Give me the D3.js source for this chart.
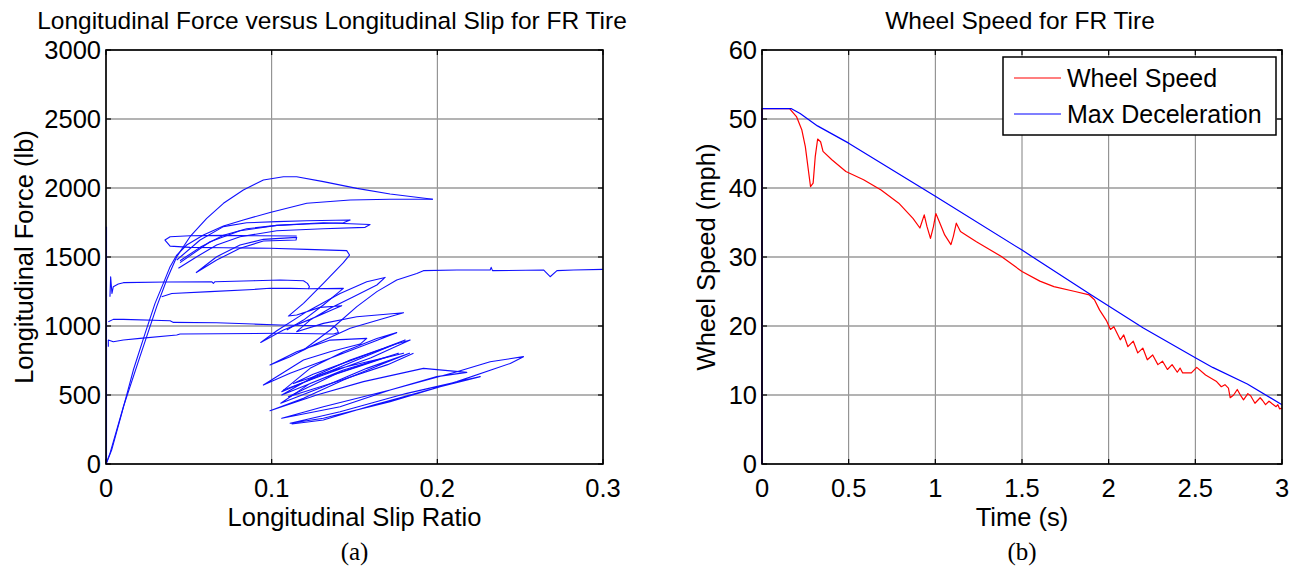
<!DOCTYPE html>
<html>
<head>
<meta charset="utf-8">
<script src="https://cdn.jsdelivr.net/npm/d3@7"></script>
<style>
  body { margin: 0; background: #ffffff; }
  text { font-family: "Liberation Sans", Arial, sans-serif; fill: #000; }
  .caption { font-family: "Liberation Serif", "Times New Roman", serif; }
</style>
</head>
<body>
<div id="chart"></div>
<script>
// ---- tick labels ----
const slipTicks = [0, 0.1, 0.2, 0.3];
const forceTicks = [0, 500, 1000, 1500, 2000, 2500, 3000];
const timeTicks = [0, 0.5, 1, 1.5, 2, 2.5, 3];
const speedTicks = [0, 10, 20, 30, 40, 50, 60];

// ---- (a) longitudinal force vs slip, traced as pieces of [slip, force] ----
const edgeSpike = [[0.0003, 0], [0.0003, 1720]];
const outerArc = [[0, 0], [0.0024, 77], [0.0105, 415], [0.0205, 778], [0.0306, 1140], [0.0366, 1333],
  [0.0427, 1502], [0.0507, 1647], [0.0608, 1780], [0.0709, 1889], [0.0829, 1985], [0.095, 2058],
  [0.1071, 2082], [0.1151, 2082], [0.1312, 2046], [0.1514, 1997], [0.1715, 1956], [0.1973, 1918]];
const returnArc = [[0.1973, 1918], [0.1715, 1918], [0.1474, 1913], [0.1212, 1889], [0.099, 1823],
  [0.0829, 1768], [0.0709, 1724], [0.0588, 1659], [0.0487, 1587], [0.0427, 1514], [0.0387, 1430],
  [0.0346, 1309], [0.0296, 1164], [0.0236, 947], [0.0165, 681], [0.0095, 367], [0.0034, 101], [0.0004, 10]];
const loopA = [[0.0427, 1478], [0.0568, 1623], [0.0709, 1720], [0.0849, 1748], [0.1031, 1756], [0.1212, 1763],
  [0.1474, 1768], [0.1433, 1748], [0.1212, 1739], [0.1031, 1729], [0.0849, 1705], [0.0709, 1657],
  [0.0568, 1570], [0.0447, 1473]];
const loopB = [[0.0447, 1459], [0.0628, 1611], [0.0809, 1690], [0.1031, 1729], [0.1312, 1748], [0.1594, 1736],
  [0.1564, 1715], [0.1312, 1705], [0.1031, 1690], [0.0809, 1647], [0.0668, 1587], [0.0548, 1502], [0.0437, 1418]];
const loopC = [[0.0543, 1386], [0.0668, 1502], [0.0809, 1587], [0.095, 1628], [0.1151, 1642], [0.1147, 1623],
  [0.095, 1616], [0.0809, 1563], [0.0668, 1478], [0.0543, 1386]];
const zigzag = [[0.1151, 1652], [0.091, 1654], [0.0709, 1657], [0.0507, 1654], [0.0387, 1647], [0.0356, 1623],
  [0.0387, 1579], [0.0507, 1570], [0.0709, 1567], [0.099, 1563], [0.1212, 1555], [0.1453, 1546],
  [0.147, 1514], [0.1433, 1459], [0.1312, 1309], [0.1192, 1164], [0.1101, 1072],
  [0.1151, 1080], [0.1292, 1135], [0.1423, 1147],
  [0.1373, 1121], [0.1232, 1048], [0.1071, 971], [0.0934, 881],
  [0.1031, 966], [0.1212, 1104], [0.1413, 1236], [0.1574, 1321], [0.1685, 1352],
  [0.1635, 1297], [0.1494, 1212], [0.1353, 1128], [0.1232, 1043], [0.1151, 959],
  [0.1312, 1019], [0.1514, 1067], [0.1796, 1096],
  [0.1675, 1055], [0.1474, 983], [0.1272, 874], [0.1111, 778], [0.099, 717],
  [0.1151, 814], [0.1353, 898], [0.1574, 910], [0.1534, 869], [0.1353, 814], [0.1192, 753], [0.095, 572],
  [0.1111, 657], [0.1353, 766], [0.1614, 886], [0.1755, 952],
  [0.1635, 910], [0.1433, 814], [0.1232, 693], [0.1061, 524],
  [0.1272, 633], [0.1514, 753], [0.1806, 898],
  [0.1675, 838], [0.1474, 753], [0.1272, 645], [0.1061, 500],
  [0.1312, 621], [0.1554, 717], [0.1765, 802],
  [0.1635, 753], [0.1433, 681], [0.1232, 584], [0.1055, 440],
  [0.1312, 560], [0.1574, 693], [0.1832, 802],
  [0.1675, 729], [0.1433, 609], [0.1192, 476], [0.099, 386],
  [0.1272, 500], [0.1554, 597], [0.1916, 693], [0.2178, 664],
  [0.1997, 633], [0.1715, 536], [0.1413, 415], [0.1061, 331],
  [0.1312, 415], [0.1715, 536], [0.2118, 669], [0.2319, 741], [0.252, 778],
  [0.244, 729], [0.2118, 597], [0.1715, 452], [0.1312, 331], [0.1111, 295],
  [0.1413, 379], [0.1816, 512], [0.2259, 633],
  [0.2017, 560], [0.1614, 427], [0.1312, 319], [0.1121, 290]];
const innerLoops = [[0.1071, 536], [0.13, 640], [0.16, 770], [0.1836, 898], [0.175, 870], [0.15, 760],
  [0.125, 650], [0.1131, 584], [0.14, 690], [0.1796, 802], [0.165, 760], [0.14, 660], [0.1101, 488],
  [0.14, 600], [0.17, 720], [0.1856, 802]];
const line1300 = [[0.0024, 1212], [0.0028, 1357], [0.0036, 1236], [0.0044, 1285], [0.0074, 1304], [0.0105, 1314],
  [0.0366, 1319], [0.0638, 1321], [0.0648, 1309], [0.0658, 1321], [0.089, 1328], [0.1051, 1333],
  [0.1192, 1328], [0.1216, 1309], [0.1228, 1285], [0.1222, 1270], [0.1111, 1273], [0.099, 1273],
  [0.089, 1265], [0.0628, 1249], [0.0397, 1236], [0.0336, 1212]];
const line1270 = [[0.1222, 1270], [0.1433, 1273], [0.1409, 1249], [0.1312, 1152], [0.1192, 1043], [0.1091, 971]];
const line1000 = [[0.0014, 1031], [0.0044, 1048], [0.0105, 1048], [0.0387, 1038], [0.0407, 1026], [0.0668, 1024],
  [0.089, 1014], [0.1051, 1007], [0.1373, 1000], [0.1393, 980], [0.1403, 952], [0.1373, 942],
  [0.1051, 947], [0.0447, 942], [0.0427, 935], [0.0205, 910], [0.0105, 898], [0.0044, 886],
  [0.0014, 898], [0.0014, 850]];
const finalRise = [[0.1192, 826], [0.1353, 971], [0.1514, 1140], [0.1635, 1249], [0.1755, 1333], [0.1876, 1381],
  [0.1916, 1401], [0.2118, 1406], [0.2319, 1406], [0.2325, 1425], [0.2333, 1401], [0.2641, 1406],
  [0.2681, 1357], [0.2722, 1401], [0.2822, 1406], [0.3, 1410]];
const forceSlipTrace = [edgeSpike, outerArc, returnArc, loopA, loopB, loopC, zigzag, innerLoops,
  line1300, line1270, line1000, finalRise];

// ---- (b) wheel speed ----
const wheelTime = [0, 0, 0.159, 0.2, 0.23, 0.25, 0.27, 0.28, 0.295, 0.307, 0.321, 0.338, 0.352, 0.403,
  0.484, 0.586, 0.687, 0.789, 0.871, 0.911, 0.936, 0.952, 0.972, 0.989, 1.003, 1.023, 1.054, 1.09,
  1.104, 1.121, 1.145, 1.176, 1.237, 1.298, 1.379, 1.5, 1.603, 1.684, 1.806, 1.888, 1.918, 1.948,
  1.989, 2.01, 2.03, 2.067, 2.087, 2.111, 2.142, 2.168, 2.197, 2.223, 2.254, 2.284, 2.311, 2.339,
  2.366, 2.396, 2.412, 2.427, 2.477, 2.508, 2.559, 2.62, 2.65, 2.671, 2.691, 2.701, 2.721, 2.742,
  2.762, 2.778, 2.803, 2.819, 2.844, 2.874, 2.888, 2.905, 2.925, 2.945, 2.966, 2.976, 2.986, 3.0];
const wheelSpeed = [0, 51.5, 51.5, 50.3, 48.4, 46, 42.1, 40.2, 40.7, 44.5, 47.1, 46.7, 45.3, 44.1,
  42.4, 41.2, 39.7, 37.8, 35.6, 34.2, 36.1, 34.4, 32.7, 34.4, 36.3, 35.1, 33.2, 31.8,
  33.0, 34.9, 33.7, 33.2, 32.2, 31.3, 30.1, 27.9, 26.5, 25.7, 25.0, 24.5, 23.8, 22.3,
  20.7, 19.5, 19.9, 18.0, 18.7, 17.0, 17.8, 16.1, 16.8, 15.1, 15.8, 14.4, 14.9, 13.7,
  14.4, 13.3, 13.9, 13.2, 13.2, 14.0, 12.9, 12.0, 11.2, 11.5, 11.0, 9.6, 10.0, 10.8,
  9.9, 9.3, 10.2, 9.9, 8.8, 9.6, 9.2, 8.6, 9.1, 8.7, 8.3, 8.6, 8.0, 8.1];
const decelTime = [0, 0, 0.17, 0.22, 0.32, 0.5, 1, 1.5, 1.9, 2, 2.2, 2.5, 2.6, 2.8, 3];
const maxDecel = [0, 51.5, 51.5, 50.8, 49, 46.5, 38.8, 31, 24.5, 22.9, 19.7, 15.4, 14, 11.6, 8.6];
const legendNames = ["Wheel Speed", "Max Deceleration"];
const seriesColors = ["#ff0000", "#0000ff"];

(function() {
    const svg = d3.select("#chart")
        .append("svg")
        .attr("width", 1293)
        .attr("height", 568);

    const fontSize = 25.5;

    function drawAxes(box, x, y, xTicks, yTicks, title, titleX, xLabel, yLabel, yLabelGap, caption) {
        const g = svg.append("g");

        // grid
        g.selectAll(".vgrid").data(xTicks).enter().append("line")
            .attr("x1", d => x(d)).attr("x2", d => x(d))
            .attr("y1", box.top).attr("y2", box.bottom)
            .attr("stroke", "#808080").attr("stroke-width", 1);
        g.selectAll(".hgrid").data(yTicks).enter().append("line")
            .attr("x1", box.left).attr("x2", box.right)
            .attr("y1", d => y(d)).attr("y2", d => y(d))
            .attr("stroke", "#9a9a9a").attr("stroke-width", 1.4);

        // ticks on all four sides, pointing inward
        const tick = 5;
        xTicks.forEach(d => {
            g.append("line").attr("x1", x(d)).attr("x2", x(d)).attr("y1", box.bottom).attr("y2", box.bottom - tick)
                .attr("stroke", "#000").attr("stroke-width", 1.2);
            g.append("line").attr("x1", x(d)).attr("x2", x(d)).attr("y1", box.top).attr("y2", box.top + tick)
                .attr("stroke", "#000").attr("stroke-width", 1.2);
        });
        yTicks.forEach(d => {
            g.append("line").attr("x1", box.left).attr("x2", box.left + tick).attr("y1", y(d)).attr("y2", y(d))
                .attr("stroke", "#000").attr("stroke-width", 1.2);
            g.append("line").attr("x1", box.right).attr("x2", box.right - tick).attr("y1", y(d)).attr("y2", y(d))
                .attr("stroke", "#000").attr("stroke-width", 1.2);
        });

        // tick labels
        g.selectAll(".xlab").data(xTicks).enter().append("text")
            .attr("x", d => x(d)).attr("y", box.bottom + 33)
            .attr("text-anchor", "middle")
            .style("font-size", fontSize + "px")
            .text(d => d);
        g.selectAll(".ylab").data(yTicks).enter().append("text")
            .attr("x", box.left - 5).attr("y", d => y(d))
            .attr("dy", "0.36em")
            .attr("text-anchor", "end")
            .style("font-size", fontSize + "px")
            .text(d => d);

        // titles and labels
        const cx = (box.left + box.right) / 2;
        g.append("text").attr("x", titleX).attr("y", 29)
            .attr("text-anchor", "middle").style("font-size", "24.5px").text(title);
        g.append("text").attr("x", cx).attr("y", 526)
            .attr("text-anchor", "middle").style("font-size", fontSize + "px").text(xLabel);
        g.append("text").attr("class", "caption").attr("x", cx).attr("y", 560)
            .attr("text-anchor", "middle").style("font-size", "25px").text(caption);
        g.append("text")
            .attr("transform", `translate(${box.left - yLabelGap},${(box.top + box.bottom) / 2}) rotate(-90)`)
            .attr("text-anchor", "middle").style("font-size", fontSize + "px").text(yLabel);
        return g;
    }

    function drawFrame(box) {
        svg.append("rect")
            .attr("x", box.left).attr("y", box.top)
            .attr("width", box.right - box.left).attr("height", box.bottom - box.top)
            .attr("fill", "none").attr("stroke", "#000").attr("stroke-width", 1.6);
    }

    // ---------- (a) ----------
    const boxA = { left: 106, right: 603, top: 50, bottom: 464 };
    const xA = d3.scaleLinear().domain([0, 0.3]).range([boxA.left, boxA.right]);
    const yA = d3.scaleLinear().domain([0, 3000]).range([boxA.bottom, boxA.top]);
    drawAxes(boxA, xA, yA, slipTicks, forceTicks,
        "Longitudinal Force versus Longitudinal Slip for FR Tire", 332,
        "Longitudinal Slip Ratio", "Longitudinal Force (lb)", 73, "(a)");

    const lineA = d3.line().x(d => xA(d[0])).y(d => yA(d[1]));
    svg.append("g").selectAll("path")
        .data(forceSlipTrace)
        .enter().append("path")
        .attr("d", lineA)
        .attr("fill", "none")
        .attr("stroke", "#1010ff")
        .attr("stroke-width", 1.1)
        .attr("stroke-linejoin", "round");
    drawFrame(boxA);

    // ---------- (b) ----------
    const boxB = { left: 762, right: 1282, top: 50, bottom: 464 };
    const xB = d3.scaleLinear().domain([0, 3]).range([boxB.left, boxB.right]);
    const yB = d3.scaleLinear().domain([0, 60]).range([boxB.bottom, boxB.top]);
    drawAxes(boxB, xB, yB, timeTicks, speedTicks,
        "Wheel Speed for FR Tire", 1020, "Time (s)", "Wheel Speed (mph)", 47, "(b)");

    const lineB = d3.line().x(d => xB(d[0])).y(d => yB(d[1]));
    const seriesB = [d3.zip(wheelTime, wheelSpeed), d3.zip(decelTime, maxDecel)];
    svg.append("g").selectAll("path")
        .data(seriesB)
        .enter().append("path")
        .attr("d", lineB)
        .attr("fill", "none")
        .attr("stroke", (d, i) => seriesColors[i])
        .attr("stroke-width", 1.2)
        .attr("stroke-linejoin", "round");
    drawFrame(boxB);

    // legend
    const legend = svg.append("g").attr("transform", "translate(1003,57)");
    legend.append("rect")
        .attr("width", 273).attr("height", 78)
        .attr("fill", "#fff").attr("stroke", "#000").attr("stroke-width", 1.5);
    legendNames.forEach((name, i) => {
        const ly = 21 + i * 36;
        legend.append("line")
            .attr("x1", 11).attr("x2", 58).attr("y1", ly).attr("y2", ly)
            .attr("stroke", seriesColors[i]).attr("stroke-width", 1.2);
        legend.append("text")
            .attr("x", 64).attr("y", ly).attr("dy", "0.36em")
            .style("font-size", "25px")
            .text(name);
    });
})();
</script>
</body>
</html>
